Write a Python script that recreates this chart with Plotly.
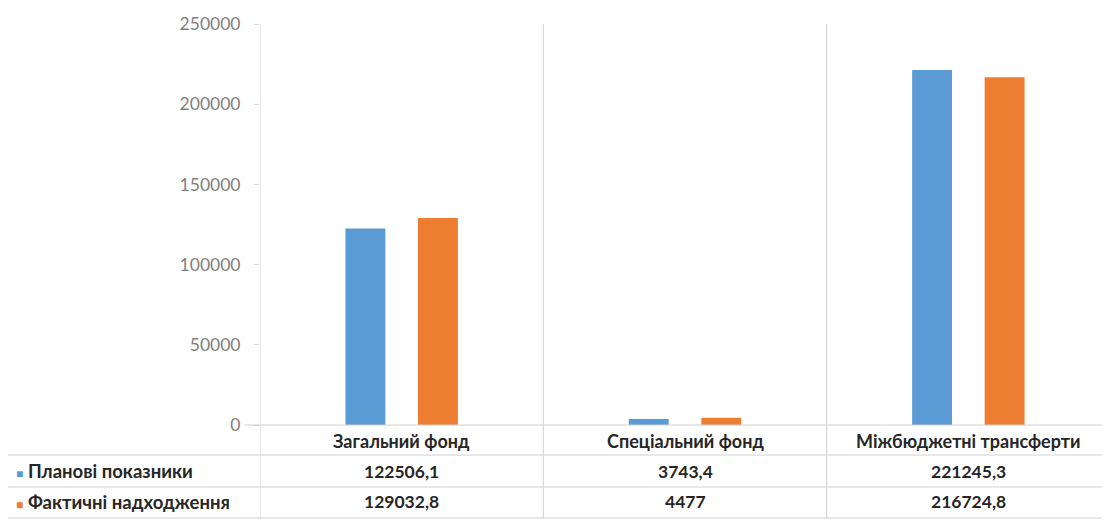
import plotly.graph_objects as go

categories = ["Загальний фонд", "Спеціальний фонд", "Міжбюджетні трансферти"]
series_names = ["Планові показники", "Фактичні надходження"]
planned = [122506.1, 3743.4, 221245.3]
actual = [129032.8, 4477, 216724.8]
planned_labels = ["122506,1", "3743,4", "221245,3"]
actual_labels = ["129032,8", "4477", "216724,8"]
colors = ["#5B9BD5", "#ED7D31"]

OFF = 8  # page body margin
W, H = 1110 - OFF, 520 - OFF
ml, mr, mt, mb = 260 - OFF, 0, 24 - OFF, 95
plot_h = H - mt - mb
plot_w = W - ml - mr

def py(p):
    # p is a page pixel y
    return (H - mb - (p - OFF)) / plot_h

def px(p):
    return (p - OFF - ml) / plot_w

fig = go.Figure()
for name, vals, col in zip(series_names, [planned, actual], colors):
    fig.add_trace(go.Bar(x=categories, y=vals, name=name, marker_color=col,
                         marker_line_width=0))

FONT = "Lato"
fig.update_layout(
    width=W, height=H,
    margin=dict(l=ml, r=mr, t=mt, b=mb),
    plot_bgcolor="white", paper_bgcolor="white",
    barmode="group", bargap=0.488, bargroupgap=0.45,
    showlegend=False,
    font=dict(family=FONT, color="#595959"),
)
fig.update_xaxes(showticklabels=False, showgrid=False, range=[-0.5, 2.5],
                 showline=False, zeroline=False, fixedrange=True)
fig.update_yaxes(range=[0, 250000], dtick=50000, showgrid=False, zeroline=False,
                 showline=False, ticks="outside", ticklen=5, tickcolor="#D9D9D9",
                 tickfont=dict(size=17.5, color="#7F7F7F", family=FONT),
                 ticklabelstandoff=10, tickformat="d")

line_col = "#D0D0D0"
for i in range(len(categories)):
    fig.add_shape(type="line", xref="x", yref="paper", x0=i - 0.5, x1=i - 0.5,
                  y0=py(519), y1=1, line=dict(color=line_col, width=1))
fig.add_shape(type="line", xref="paper", yref="paper", x0=px(244), x1=1,
              y0=0, y1=0, line=dict(color=line_col, width=1))
for p in [455, 487, 518]:
    fig.add_shape(type="line", xref="paper", yref="paper", x0=px(5), x1=1,
                  y0=py(p), y1=py(p), line=dict(color=line_col, width=1))
fig.add_shape(type="line", xref="paper", yref="paper", x0=px(5), x1=px(5),
              y0=py(519), y1=py(455), line=dict(color=line_col, width=1))

hdr_font = dict(family=FONT, size=18, color="#262626")
val_font = dict(family=FONT, size=17.5, color="#262626")
lab_font = dict(family=FONT, size=18.5, color="#262626")
for c in categories:
    fig.add_annotation(x=c, xref="x", y=py(441), yref="paper", yanchor="middle",
                       text=f"<b>{c}</b>", showarrow=False, font=hdr_font)
for c, a, b in zip(categories, planned_labels, actual_labels):
    fig.add_annotation(x=c, xref="x", y=py(471), yref="paper", yanchor="middle",
                       text=f"<b>{a}</b>", showarrow=False, font=val_font)
    fig.add_annotation(x=c, xref="x", y=py(502), yref="paper", yanchor="middle",
                       text=f"<b>{b}</b>", showarrow=False, font=val_font)
for name, col, p in zip(series_names, colors, [471, 502]):
    fig.add_annotation(x=px(14), xref="paper", y=py(p), yref="paper", xanchor="left",
                       yanchor="middle",
                       text=f"<span style='color:{col};font-size:12px'>■</span> <b>{name}</b>",
                       showarrow=False, font=lab_font)

fig.write_html("out.html")
